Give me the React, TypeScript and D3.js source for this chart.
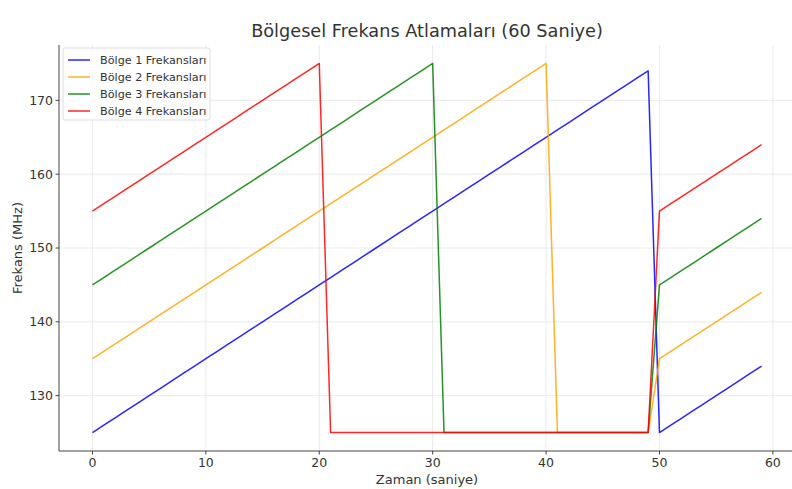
import React from "react";
import * as d3 from "d3";

const seconds: number[] = [
  0, 1, 2, 3, 4, 5, 6, 7, 8, 9, 10, 11, 12, 13, 14, 15, 16, 17, 18, 19,
  20, 21, 22, 23, 24, 25, 26, 27, 28, 29, 30, 31, 32, 33, 34, 35, 36, 37, 38, 39,
  40, 41, 42, 43, 44, 45, 46, 47, 48, 49, 50, 51, 52, 53, 54, 55, 56, 57, 58, 59,
];

const bolge1: number[] = [
  125, 126, 127, 128, 129, 130, 131, 132, 133, 134, 135, 136, 137, 138, 139, 140, 141, 142, 143, 144,
  145, 146, 147, 148, 149, 150, 151, 152, 153, 154, 155, 156, 157, 158, 159, 160, 161, 162, 163, 164,
  165, 166, 167, 168, 169, 170, 171, 172, 173, 174, 125, 126, 127, 128, 129, 130, 131, 132, 133, 134,
];

const bolge2: number[] = [
  135, 136, 137, 138, 139, 140, 141, 142, 143, 144, 145, 146, 147, 148, 149, 150, 151, 152, 153, 154,
  155, 156, 157, 158, 159, 160, 161, 162, 163, 164, 165, 166, 167, 168, 169, 170, 171, 172, 173, 174,
  175, 125, 125, 125, 125, 125, 125, 125, 125, 125, 135, 136, 137, 138, 139, 140, 141, 142, 143, 144,
];

const bolge3: number[] = [
  145, 146, 147, 148, 149, 150, 151, 152, 153, 154, 155, 156, 157, 158, 159, 160, 161, 162, 163, 164,
  165, 166, 167, 168, 169, 170, 171, 172, 173, 174, 175, 125, 125, 125, 125, 125, 125, 125, 125, 125,
  125, 125, 125, 125, 125, 125, 125, 125, 125, 125, 145, 146, 147, 148, 149, 150, 151, 152, 153, 154,
];

const bolge4: number[] = [
  155, 156, 157, 158, 159, 160, 161, 162, 163, 164, 165, 166, 167, 168, 169, 170, 171, 172, 173, 174,
  175, 125, 125, 125, 125, 125, 125, 125, 125, 125, 125, 125, 125, 125, 125, 125, 125, 125, 125, 125,
  125, 125, 125, 125, 125, 125, 125, 125, 125, 125, 155, 156, 157, 158, 159, 160, 161, 162, 163, 164,
];

const seriesNames: string[] = [
  "Bölge 1 Frekansları",
  "Bölge 2 Frekansları",
  "Bölge 3 Frekansları",
  "Bölge 4 Frekansları",
];
const seriesValues: number[][] = [bolge1, bolge2, bolge3, bolge4];
const seriesColors: string[] = ["#0000ff", "#ffa500", "#008000", "#ff0000"];

const xTicks: number[] = [0, 10, 20, 30, 40, 50, 60];
const yTicks: number[] = [130, 140, 150, 160, 170];

const title = "Bölgesel Frekans Atlamaları (60 Saniye)";
const xLabel = "Zaman (saniye)";
const yLabel = "Frekans (MHz)";

const W = 792;
const H = 489;
const left = 59;
const right = 795;
const top = 45;
const bottom = 451;
const font = "'DejaVu Sans', sans-serif";
const textColor = "#333";

export default function App() {
  const x = d3.scaleLinear().domain([-2.95, 61.95]).range([left, right]);
  const y = d3.scaleLinear().domain([122.5, 177.5]).range([bottom, top]);
  const line = d3
    .line<number>()
    .x((_, i) => x(seconds[i]))
    .y((d) => y(d));

  return (
    <svg
      width={W}
      height={H}
      style={{ position: "absolute", left: 0, top: 0, background: "#fff" }}
      fontFamily={font}
    >
      <rect x={0} y={0} width={W} height={H} fill="#fff" />
      {/* grid */}
      {xTicks.map((t) => (
        <line key={"gx" + t} x1={x(t)} x2={x(t)} y1={top} y2={bottom} stroke="#e4e4e4" strokeWidth={0.8} />
      ))}
      {yTicks.map((t) => (
        <line key={"gy" + t} x1={left} x2={right} y1={y(t)} y2={y(t)} stroke="#e4e4e4" strokeWidth={0.8} />
      ))}
      {/* series */}
      {seriesValues.map((vals, i) => (
        <path
          key={seriesNames[i]}
          d={line(vals) || ""}
          fill="none"
          stroke={seriesColors[i]}
          strokeWidth={1.5}
          strokeOpacity={0.85}
          strokeLinejoin="round"
        />
      ))}
      {/* spines */}
      <line x1={left} x2={left} y1={top} y2={bottom} stroke="#444" strokeWidth={1} />
      <line x1={left} x2={right} y1={bottom} y2={bottom} stroke="#444" strokeWidth={1} />
      {/* ticks */}
      {xTicks.map((t) => (
        <g key={"tx" + t}>
          <line x1={x(t)} x2={x(t)} y1={bottom} y2={bottom + 3.5} stroke="#444" />
          <text x={x(t)} y={bottom + 16} textAnchor="middle" fontSize={12.5} fill={textColor}>
            {t}
          </text>
        </g>
      ))}
      {yTicks.map((t) => (
        <g key={"ty" + t}>
          <line x1={left - 3.5} x2={left} y1={y(t)} y2={y(t)} stroke="#444" />
          <text x={left - 6} y={y(t)} dy="0.35em" textAnchor="end" fontSize={12.5} fill={textColor}>
            {t}
          </text>
        </g>
      ))}
      {/* labels */}
      <text x={427} y={37} textAnchor="middle" fontSize={17.7} fill={textColor}>
        {title}
      </text>
      <text x={427} y={484} textAnchor="middle" fontSize={13} fill={textColor}>
        {xLabel}
      </text>
      <text
        transform={`translate(22,${(top + bottom) / 2}) rotate(-90)`}
        textAnchor="middle"
        fontSize={13}
        fill={textColor}
      >
        {yLabel}
      </text>
      {/* legend */}
      <g>
        <rect x={63} y={48} width={147} height={72} fill="#fff" fillOpacity={0.85} stroke="#ddd" rx={2} />
        {seriesNames.map((n, i) => (
          <g key={"lg" + n}>
            <line x1={68} x2={90} y1={60 + i * 17} y2={60 + i * 17} stroke={seriesColors[i]} strokeWidth={1.5} strokeOpacity={0.85} />
            <text x={100} y={60 + i * 17} dy="0.35em" fontSize={11.2} fill={textColor}>
              {n}
            </text>
          </g>
        ))}
      </g>
    </svg>
  );
}
